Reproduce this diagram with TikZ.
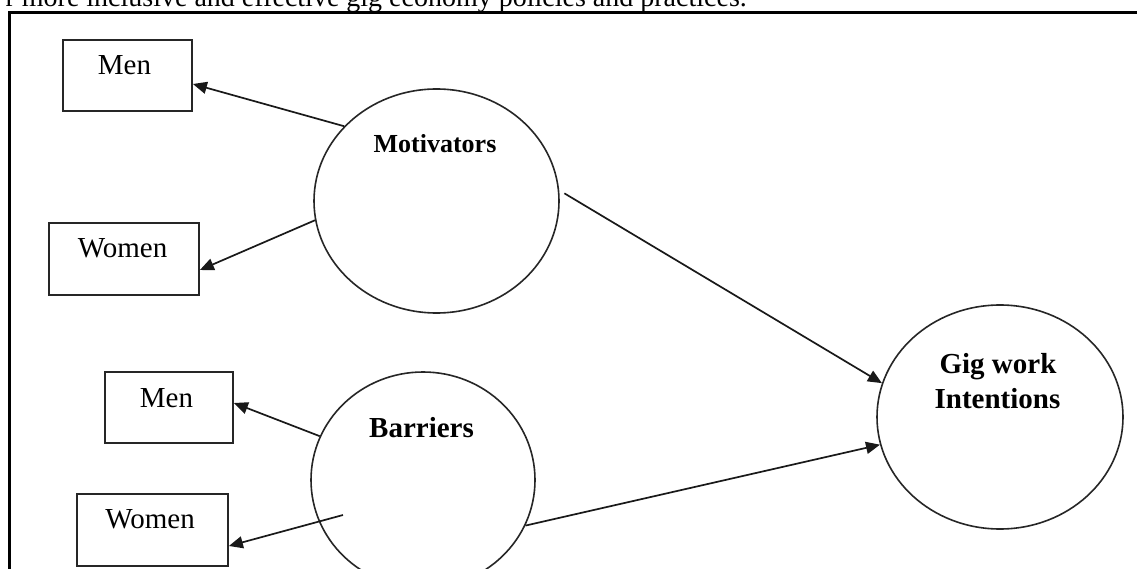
\documentclass[tikz,border=0pt]{standalone}
\usepackage{fontspec}
\setmainfont{Liberation Serif}
\usetikzlibrary{shapes.geometric,arrows.meta,calc}
\begin{document}
\begin{tikzpicture}[x=1pt,y=-1pt,
  boxst/.style={draw=black!85,line width=1.8pt,rectangle,inner sep=0pt},
  ellst/.style={draw=black!85,line width=1.6pt,ellipse,inner sep=0pt},
  lbl/.style={anchor=base,inner sep=0pt,font=\fontsize{29}{32}\selectfont},
  blbl/.style={anchor=base,inner sep=0pt,font=\fontsize{29}{32}\selectfont\bfseries},
  arr/.style={-{Triangle[length=14pt,width=12pt]},line width=1.7pt,draw=black!90}]
\clip (0,0) rectangle (1137,569);
\fill[white] (0,0) rectangle (1137,569);
% caption fragment and frame
\node[anchor=base east,inner sep=0pt,font=\fontsize{28}{30}\selectfont] (cap) at (747,6.5) {r more inclusive and effective gig economy policies and practices.};
\draw[line width=2.2pt] (9.5,575) -- (9.5,12.5) -- (1145,12.5);
% boxes
\node[boxst,minimum width=129pt,minimum height=71pt] (m1) at (127.5,75.5) {};
\node[boxst,minimum width=150pt,minimum height=72pt] (w1) at (124,259) {};
\node[boxst,minimum width=128pt,minimum height=71pt] (m2) at (169,407.5) {};
\node[boxst,minimum width=151pt,minimum height=72pt] (w2) at (152.5,530) {};
\node[lbl] (m1t) at (124.5,75) {Men};
\node[lbl] (w1t) at (122.5,258) {Women};
\node[lbl] (m2t) at (166.5,407) {Men};
\node[lbl] (w2t) at (150,528) {Women};
% ellipses
\node[ellst,minimum width=245pt,minimum height=224pt] (mot) at (436.5,201) {};
\node[ellst,minimum width=224pt,minimum height=216pt] (bar) at (423,480) {};
\node[ellst,minimum width=246pt,minimum height=224pt] (gig) at (1000,417) {};
\node[blbl,font=\fontsize{26}{30}\selectfont\bfseries] (mott) at (435,153) {Motivators};
\node[blbl] (bart) at (421.5,437) {Barriers};
\node[blbl] (gigt1) at (998,373) {Gig work};
\node[blbl] (gigt2) at (997.5,408) {Intentions};
% connectors
\coordinate (bw) at (343,515);
\draw[arr] (mot.141) -- ([yshift=-8.5pt]m1.east);
\draw[arr] (mot.189) -- ([yshift=-11pt]w1.east);
\draw[arr] (bar.157) -- ([yshift=4.5pt]m2.east);
\draw[arr] (bw) -- ([yshift=-16pt]w2.east);
\draw[arr,shorten <=6pt] (mot.5) -- (gig.164);
\draw[arr] (bar.336) -- (gig.193);
\end{tikzpicture}
\end{document}
